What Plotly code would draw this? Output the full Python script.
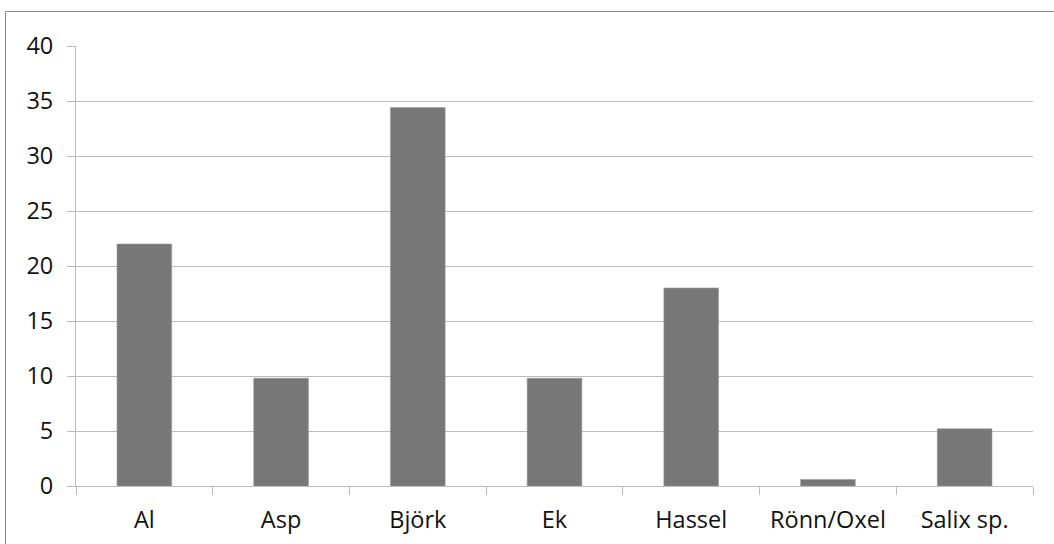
import plotly.graph_objects as go

# Tree species and their shares
species = ["Al", "Asp", "Björk", "Ek", "Hassel", "Rönn/Oxel", "Salix sp."]
values = [22.0, 9.8, 34.4, 9.8, 18.0, 0.6, 5.2]
y_ticks = [0, 5, 10, 15, 20, 25, 30, 35, 40]

W, H = 1054, 544
ML, MR, MT, MB = 76, 21, 46, 58

fig = go.Figure(
    go.Bar(
        x=species,
        y=values,
        marker=dict(color="#777777", line=dict(color="#9a9a9a", width=0.6)),
        width=0.4,
    )
)

grid = "#bcbcbc"
font = dict(family="Open Sans, Lato, sans-serif", size=23, color="#111111")

fig.update_layout(
    width=W,
    height=H,
    margin=dict(l=ML, r=MR, t=MT, b=MB),
    paper_bgcolor="white",
    plot_bgcolor="white",
    showlegend=False,
    font=font,
    xaxis=dict(
        type="category",
        automargin=False,
        showgrid=False,
        showline=True,
        linecolor=grid,
        linewidth=1,
        ticks="outside",
        tickson="boundaries",
        ticklen=8,
        tickcolor=grid,
        tickfont=dict(size=23.5),
        ticklabelstandoff=13,
    ),
    yaxis=dict(
        range=[0, 40],
        automargin=False,
        tickvals=y_ticks,
        showgrid=True,
        gridcolor=grid,
        gridwidth=1,
        showline=True,
        linecolor=grid,
        linewidth=1,
        ticks="outside",
        ticklen=8,
        tickcolor=grid,
        tickfont=dict(size=23.5),
        ticklabelstandoff=9,
        zeroline=False,
    ),
)

# Outer chart frame that runs past the right and bottom edges
pw = W - ML - MR
ph = H - MT - MB
fig.add_shape(
    type="rect",
    xref="paper",
    yref="paper",
    x0=(5.5 - ML) / pw,
    x1=(W + 10 - ML) / pw,
    y0=-(H + 10 - (H - MB)) / ph,
    y1=(H - MB - 11.5) / ph,
    line=dict(color="#8a8a8a", width=1),
    fillcolor="rgba(0,0,0,0)",
    layer="below",
)

fig.write_html("out.html")
